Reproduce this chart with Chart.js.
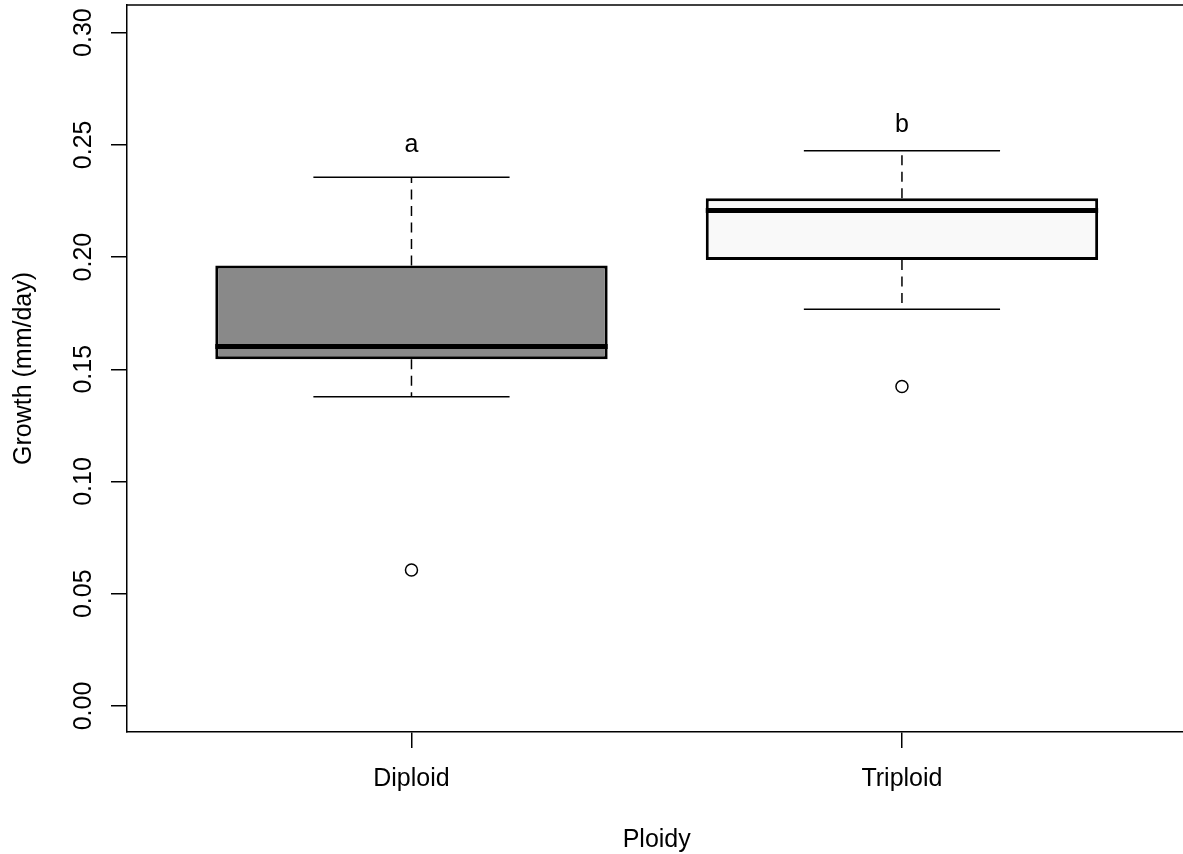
<!DOCTYPE html>
<html>
<head>
<meta charset="utf-8">
<script src="https://cdn.jsdelivr.net/npm/chart.js@4.4.1/dist/chart.umd.min.js"></script>
<style>
  html, body { margin: 0; padding: 0; background: #ffffff; overflow: hidden; }
  #wrap { position: relative; width: 1183px; height: 854px; }
</style>
</head>
<body>
<div id="wrap"><canvas id="c" width="1183" height="854"></canvas></div>
<script>
// ---- data ----
const categories   = ['Diploid', 'Triploid'];
const whiskerLow   = [0.1378, 0.1768];
const quartile1    = [0.1545, 0.1987];
const medians      = [0.1601, 0.2207];
const quartile3    = [0.1962, 0.2262];
const whiskerHigh  = [0.2356, 0.2474];
const outliers     = [[0.0606], [0.1423]];
const groupLetters = ['a', 'b'];
const letterY      = [0.250, 0.259];
const yTickValues  = [0.00, 0.05, 0.10, 0.15, 0.20, 0.25, 0.30];
const yTitle = 'Growth (mm/day)';
const xTitle = 'Ploidy';

// ---- styles ----
const FONT = '"Liberation Sans", Arial, Helvetica, sans-serif';
const FONT_SIZE = 25;
const boxFills = ['#898989', '#f9f9f9'];
const BOX_HALF = 0.4, CAP_HALF = 0.2;

const positions = categories.map((_, i) => i + 1);

const datasets = [];
// boxes (floating bars)
datasets.push({
  type: 'bar',
  label: 'IQR',
  data: positions.map((p, i) => ({ x: p, y: [quartile1[i], quartile3[i]] })),
  backgroundColor: boxFills,
  borderColor: '#000000',
  borderWidth: 3,
  borderSkipped: false,
  categoryPercentage: 0.8,
  barPercentage: 1.0,
  order: 2
});
positions.forEach((p, i) => {
  const seg = (pts, extra) => Object.assign({
    type: 'line',
    data: pts,
    borderColor: '#000000',
    borderWidth: 1.5,
    pointRadius: 0,
    fill: false,
    tension: 0,
    borderCapStyle: 'butt',
    order: 3
  }, extra || {});
  // whiskers (dashed)
  datasets.push(seg([{ x: p, y: quartile3[i] }, { x: p, y: whiskerHigh[i] }], { borderDash: [10, 6.5] }));
  datasets.push(seg([{ x: p, y: quartile1[i] }, { x: p, y: whiskerLow[i] }], { borderDash: [10, 6.5] }));
  // caps
  datasets.push(seg([{ x: p - CAP_HALF, y: whiskerHigh[i] }, { x: p + CAP_HALF, y: whiskerHigh[i] }]));
  datasets.push(seg([{ x: p - CAP_HALF, y: whiskerLow[i] }, { x: p + CAP_HALF, y: whiskerLow[i] }]));
  // median
  datasets.push(seg([{ x: p - BOX_HALF, y: medians[i] }, { x: p + BOX_HALF, y: medians[i] }], { borderWidth: 5, order: 0 }));
});
// outliers
datasets.push({
  type: 'line',
  label: 'outliers',
  showLine: false,
  data: positions.flatMap((p, i) => outliers[i].map(v => ({ x: p, y: v }))),
  pointRadius: 6,
  pointBorderWidth: 1.5,
  pointBorderColor: '#000000',
  pointBackgroundColor: 'rgba(0,0,0,0)',
  order: 1
});

const decorPlugin = {
  id: 'decor',
  afterDraw(chart) {
    const ctx = chart.ctx;
    const xs = chart.scales.x, ys = chart.scales.y;
    const area = chart.chartArea;
    ctx.save();
    // top border of the plot box
    ctx.strokeStyle = '#000000';
    ctx.lineWidth = 1.5;
    ctx.beginPath();
    ctx.moveTo(area.left, area.top);
    ctx.lineTo(area.right, area.top);
    ctx.stroke();

    ctx.fillStyle = '#000000';
    ctx.font = FONT_SIZE + 'px ' + FONT;
    // y tick labels (rotated, parallel to axis)
    yTickValues.forEach(v => {
      const py = ys.getPixelForValue(v);
      ctx.save();
      ctx.translate(90.5, py);
      ctx.rotate(-Math.PI / 2);
      ctx.textAlign = 'center';
      ctx.textBaseline = 'alphabetic';
      ctx.fillText(v.toFixed(2), 0, 0);
      ctx.restore();
    });
    // group letters
    ctx.textAlign = 'center';
    ctx.textBaseline = 'alphabetic';
    groupLetters.forEach((t, i) => {
      ctx.fillText(t, xs.getPixelForValue(positions[i]), ys.getPixelForValue(letterY[i]) + 7);
    });
    // axis titles
    ctx.fillText(xTitle, (area.left + xs.getPixelForValue(2.58)) / 2, 847);
    ctx.save();
    ctx.translate(31, (area.top + area.bottom) / 2);
    ctx.rotate(-Math.PI / 2);
    ctx.textAlign = 'center';
    ctx.fillText(yTitle, 0, 0);
    ctx.restore();
    ctx.restore();
  }
};

const zeroPad = s => { s.paddingTop = 0; s.paddingBottom = 0; s.paddingLeft = 0; s.paddingRight = 0; };

new Chart(document.getElementById('c'), {
  type: 'bar',
  data: { datasets },
  options: {
    responsive: false,
    animation: false,
    events: [],
    layout: { autoPadding: false, padding: { top: 5, right: 0, left: 0, bottom: 0 } },
    plugins: { legend: { display: false }, tooltip: { enabled: false } },
    scales: {
      x: {
        type: 'linear',
        offset: false,
        min: 0.42,
        max: 2.573,
        afterBuildTicks: s => { s.ticks = positions.map(v => ({ value: v })); },
        afterFit: s => { s.height = 122; zeroPad(s); },
        ticks: {
          callback: v => categories[Math.round(v) - 1] || '',
          color: '#000000',
          font: { family: FONT, size: FONT_SIZE },
          padding: 16,
          maxRotation: 0,
          minRotation: 0,
          autoSkip: false
        },
        grid: { offset: false, drawOnChartArea: false, drawTicks: true, tickLength: 16, color: '#000000', lineWidth: 1.5 },
        border: { display: true, color: '#000000', width: 1.5 }
      },
      y: {
        type: 'linear',
        min: -0.0116,
        max: 0.3123,
        afterBuildTicks: s => { s.ticks = yTickValues.map(v => ({ value: v })); },
        afterFit: s => { s.width = 127; zeroPad(s); },
        ticks: { display: false },
        grid: { drawOnChartArea: false, drawTicks: true, tickLength: 16, color: '#000000', lineWidth: 1.5 },
        border: { display: true, color: '#000000', width: 1.5 }
      }
    }
  },
  plugins: [decorPlugin]
});
</script>
</body>
</html>
